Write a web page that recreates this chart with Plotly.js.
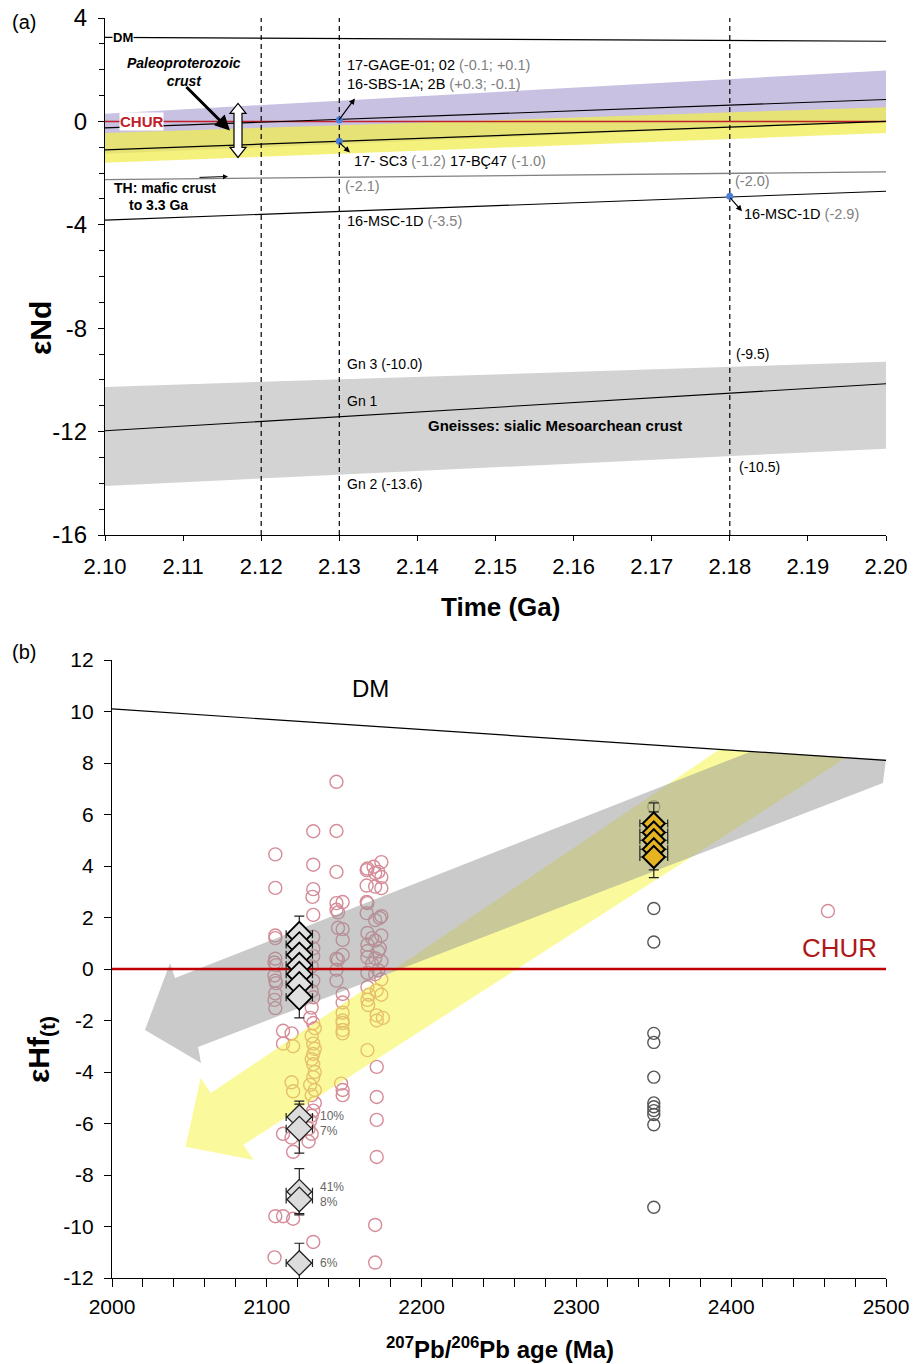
<!DOCTYPE html>
<html><head><meta charset="utf-8">
<script src="https://cdn.plot.ly/plotly-3.0.1.min.js"></script>
<style>html,body{margin:0;padding:0;background:#fff}</style>
</head><body><div id="chart" style="width:917px;height:1364px"></div>
<script>
// ---------- Panel (a) data ----------
const aX = [2.10, 2.20];
const aDM = [3.25, 3.1];
const aCHUR = [0, 0];
const aUpperLine = [-0.25, 0.85];
const aLowerLine = [-1.1, 0.0];
const aTH = [-2.25, -1.95];
const aMSC = [-3.82, -2.7];
const aGn1 = [-11.97, -10.15];
const purpleTop = [0.3, 1.97], purpleBot = [-1.25, 0.0];
const yellowTop = [-0.45, 0.55], yellowBot = [-1.6, -0.45];
const gneissTop = [-10.27, -9.3], gneissBot = [-14.1, -12.66];
const refAges = [2.12, 2.13, 2.18];
const sampleX = [2.13, 2.13, 2.18];
const sampleY = [0.05, -0.77, -2.9];
const aXTicks = [2.10,2.11,2.12,2.13,2.14,2.15,2.16,2.17,2.18,2.19,2.20];
const aXTickText = ['2.10','2.11','2.12','2.13','2.14','2.15','2.16','2.17','2.18','2.19','2.20'];
const aYTicks = [4,0,-4,-8,-12,-16];
const aYTickText = ['4','0','-4','-8','-12','-16'];

// ---------- Panel (b) data ----------
const bX = [2000, 2500];
const bDM = [10.1, 8.1];
const bCHUR = [0, 0];
const grayArrowAge = [2021.3, 2037.5, 2040.7, 2412, 2500, 2498, 2055.6, 2057.5, 2021.3];
const grayArrowEps = [-2.37, 0.23, -0.35, 8.43, 8.15, 7.22, -3.03, -3.65, -2.37];
const yellowArrowAge = [2047.5, 2057.3, 2063.8, 2392.5, 2474, 2084.9, 2091.5, 2047.5];
const yellowArrowEps = [-6.9, -4.23, -4.82, 8.53, 8.2, -6.83, -7.42, -6.9];

const colA_age = [2105.5,2105.5,2105.5,2105.5,2105.5,2105,2106,2105,2105.5,2106,2105.5,2105,2105.5,2105.5,2105];
const colA_eps = [4.45,3.15,1.3,1.2,0.4,0.25,0.15,-0.25,-0.45,-0.55,-0.95,-1.2,-1.52,-9.6,-11.2];
const colB_age = [2110.5,2116,2110.5,2117,2116,2117,2110.5,2116,2117,2110.5,2117];
const colB_eps = [-2.4,-2.5,-2.9,-3.0,-4.4,-4.75,-6.4,-6.55,-7.1,-9.6,-9.7];
const colC_age = [2130,2130,2130,2129.5,2130,2130,2130,2130,2129,2130,2129,2130,2129,
  2128,2130,2131,2129,2130,2131,2130,2129,2130,2131,2130,2128,2131,2129,2131,2130,2129,2128,2127,2129,2127,2130];
const colC_eps = [5.35,4.05,3.1,2.8,2.1,1.25,0.8,0.5,0.1,-0.45,-0.85,-1.1,-1.5,
  -1.9,-2.1,-2.3,-2.6,-2.9,-3.1,-3.3,-3.5,-3.7,-4.0,-4.2,-4.5,-4.7,-4.9,-5.2,-5.5,-5.7,-5.9,-6.2,-6.4,-6.7,-10.6];
const colD_age = [2145,2145,2145,2145,2149,2145,2146,2146,2149,2149,2149,2145,2146,2145,2145,2149,2149,2149,2149,2149,2149,2149,2148,2149,2149];
const colD_eps = [7.27,5.36,3.77,2.56,2.6,2.3,2.2,1.6,1.55,1.13,0.55,0.4,0.36,-0.03,-0.45,-0.97,-1.3,-1.7,-2.0,-2.1,-2.37,-2.5,-4.45,-4.7,-4.9];
const colE_age = [2174,2169,2165,2164.5,2172,2170,2174,2164.5,2170,2174,2164.5,2165,2164.5,2174,2173,2170,2165,2174,2168,2170,2165,2173,2165,2172,2165,2170,2174,2168,2172,2165,2170,2174,2165,2171,2166,2165,2165.5,2171,2171,2165,2171,2171,2171,2171,2170,2170,2174,2175];
const colE_eps = [4.15,3.97,3.9,3.84,3.77,3.72,3.57,3.24,3.2,3.14,2.6,2.56,2.17,2.05,1.98,1.9,1.4,1.3,1.2,1.1,0.95,0.8,0.7,0.68,0.45,0.42,0.3,0.2,-0.05,-0.15,-0.2,-0.4,-0.7,-0.83,-1.0,-1.2,-1.4,-1.8,-2.0,-3.15,-3.8,-4.97,-5.86,-7.3,-9.94,-11.4,-1.0,-1.9];
const outlierAge = [2462.5];
const outlierEps = [2.25];

const grayCircAge = [2350,2350,2350,2350,2350,2350,2350,2350,2350,2350,2350,2350];
const grayCircEps = [6.3,2.35,1.05,-2.5,-2.85,-4.2,-5.2,-5.35,-5.5,-5.65,-6.05,-9.25];

const diamUpAge = [2121,2121,2121,2121,2121,2121,2121];
const diamUpEps = [1.35,0.95,0.55,0.15,-0.2,-0.6,-1.1];
const diamUpErrY = [0.7,0.6,0.7,0.6,0.65,0.7,0.8];
const diamUpErrX = [8.5,8.5,8.5,8.5,8.5,8.5,8.5];
const diamLowAge = [2121,2121,2121,2121,2121];
const diamLowEps = [-5.75,-6.2,-8.65,-8.95,-11.42];
const diamLowErrY = [0.62,0.95,0.9,0.55,0.77];
const diamLowErrX = [8.5,8.5,8.5,8.5,8.5];
const diamLowLabels = ['10%','7%','41%','8%','6%'];
const diamLowLabelEps = [-5.7,-6.3,-8.47,-9.05,-11.42];
const orangeAge = [2350,2350,2350,2350,2350];
const orangeEps = [5.65,5.3,5.0,4.65,4.35];
const orangeErrY = [0.8,0.8,0.8,0.8,0.8];
const orangeErrX = [9,9,9,9,9];
const bYTicks = [12,10,8,6,4,2,0,-2,-4,-6,-8,-10,-12];
const bYTickText = ['12','10','8','6','4','2','0','-2','-4','-6','-8','-10','-12'];

// ---------- build ----------
const F = 'Liberation Sans, Arial, Helvetica, sans-serif';
const FN = 'Liberation Sans Narrow, Liberation Sans, Arial, sans-serif';
const W = 917, H = 1364;
function band(x, top, bot, color, xa, ya) {
  return {x:[x[0],x[1],x[1],x[0],x[0]], y:[top[0],top[1],bot[1],bot[0],top[0]], xaxis:xa, yaxis:ya,
    mode:'lines', fill:'toself', fillcolor:color, line:{width:0}, hoverinfo:'skip'};
}
function line(x, y, color, width, xa, ya, dash) {
  return {x:x, y:y, xaxis:xa, yaxis:ya, mode:'lines', line:{color:color, width:width, dash:dash||'solid'}, hoverinfo:'skip'};
}
const traces = [];
// panel a
traces.push(band(aX, gneissTop, gneissBot, 'rgb(211,211,211)', 'x', 'y'));
traces.push(band(aX, purpleTop, purpleBot, 'rgb(200,193,225)', 'x', 'y'));
traces.push(band(aX, yellowTop, yellowBot, 'rgba(240,236,80,0.75)', 'x', 'y'));
refAges.forEach(v => traces.push(line([v,v], [-16,4], '#000', 1.2, 'x', 'y', '5px,4px')));
traces.push(line(aX, aDM, '#000', 1.2, 'x', 'y'));
traces.push(line(aX, aCHUR, '#c0202a', 1.5, 'x', 'y'));
traces.push(line(aX, aUpperLine, '#000', 1.1, 'x', 'y'));
traces.push(line(aX, aLowerLine, '#000', 1.1, 'x', 'y'));
traces.push(line(aX, aTH, '#808080', 1.3, 'x', 'y'));
traces.push(line(aX, aMSC, '#000', 1.1, 'x', 'y'));
traces.push(line(aX, aGn1, '#000', 1.1, 'x', 'y'));
traces.push({x:sampleX, y:sampleY, xaxis:'x', yaxis:'y', mode:'markers', marker:{color:'#4a80d8', size:7}, hoverinfo:'skip'});
// panel b
const pink = 'rgb(214,140,152)';
[[colA_age,colA_eps],[colB_age,colB_eps],[colC_age,colC_eps],[colD_age,colD_eps],[colE_age,colE_eps],[outlierAge,outlierEps]].forEach(c => {
  traces.push({x:c[0], y:c[1], xaxis:'x2', yaxis:'y2', mode:'markers',
    marker:{symbol:'circle-open', color:pink, size:13, line:{width:1.4}}, hoverinfo:'skip'});
});
traces.push({x:grayCircAge, y:grayCircEps, xaxis:'x2', yaxis:'y2', mode:'markers',
  marker:{symbol:'circle-open', color:'#555', size:12, line:{width:1.4}}, hoverinfo:'skip'});
traces.push({x:yellowArrowAge, y:yellowArrowEps, xaxis:'x2', yaxis:'y2', mode:'lines', fill:'toself',
  fillcolor:'rgba(245,245,60,0.5)', line:{width:0}, hoverinfo:'skip'});
traces.push({x:grayArrowAge, y:grayArrowEps, xaxis:'x2', yaxis:'y2', mode:'lines', fill:'toself',
  fillcolor:'rgba(150,150,150,0.5)', line:{width:0}, hoverinfo:'skip'});
traces.push(line(bX, bDM, '#000', 1.2, 'x2', 'y2'));
traces.push(line(bX, bCHUR, '#c00000', 2.5, 'x2', 'y2'));
const eb = (arr, w) => ({type:'data', array:arr, visible:true, color:'#222', thickness:1.2, width:w});
traces.push({x:diamUpAge, y:diamUpEps, xaxis:'x2', yaxis:'y2', mode:'markers',
  error_y:eb(diamUpErrY,5), error_x:eb(diamUpErrX,4),
  marker:{symbol:'diamond', size:19, color:'#e0e0e0', line:{color:'#000', width:1.8}}, hoverinfo:'skip'});
traces.push({x:diamLowAge, y:diamLowEps, xaxis:'x2', yaxis:'y2', mode:'markers',
  error_y:eb(diamLowErrY,5), error_x:eb(diamLowErrX,4),
  marker:{symbol:'diamond', size:19, color:'#dcdcdc', line:{color:'#222', width:1.3}}, hoverinfo:'skip'});
traces.push({x:orangeAge, y:orangeEps, xaxis:'x2', yaxis:'y2', mode:'markers',
  error_y:eb(orangeErrY,5), error_x:eb(orangeErrX,4),
  marker:{symbol:'diamond', size:17, color:'#e6b422', line:{color:'#000', width:2}}, hoverinfo:'skip'});

const grey = '#808080';
const ann = [];
function t(x, y, text, opts) {
  ann.push(Object.assign({xref:'x', yref:'y', x:x, y:y, text:text, showarrow:false, xanchor:'left', yanchor:'middle',
    font:{family:F, size:14.5, color:'#000'}}, opts||{}));
}
function arrow(x, y, ax, ay, w, xr, yr) {
  ann.push({xref:xr||'x', yref:yr||'y', x:x, y:y, ax:ax, ay:ay, text:'', showarrow:true, arrowhead:2,
    arrowsize:1, arrowwidth:w, arrowcolor:'#000'});
}
// panel a text
t(2.1009, 3.25, '<b>DM</b>', {font:{family:F, size:13, color:'#000'}, bgcolor:'#fff', borderpad:0});
t(2.1026, 1.9, '<b><i>Paleoproterozoic<br>crust</i></b>', {font:{family:F, size:14, color:'#000'}});
arrow(2.1160, -0.35, -45, -45, 3);
t(2.1018, 0, '<b>CHUR</b>', {font:{family:F, size:15, color:'#c0202a'}, bgcolor:'#fff', borderpad:0});
t(2.1307, 2.17, '17-GAGE-01; 02 <span style="color:'+grey+'">(-0.1; +0.1)</span>');
t(2.1307, 1.43, '16-SBS-1A; 2B <span style="color:'+grey+'">(+0.3; -0.1)</span>');
arrow(2.1320, 0.89, -17, 23, 1.2);
t(2.1316, -1.55, '17- SC3 <span style="color:'+grey+'">(-1.2)</span> 17-BÇ47 <span style="color:'+grey+'">(-1.0)</span>');
arrow(2.13137, -1.2, -12, -11, 1.2);
t(2.1009, -2.59, '<b>TH: mafic crust</b>', {font:{family:F, size:14, color:'#000'}});
t(2.1028, -3.25, '<b>to 3.3 Ga</b>', {font:{family:F, size:14, color:'#000'}});
arrow(2.11575, -2.13, -30, 1, 1);
t(2.1305, -2.51, '<span style="color:'+grey+'">(-2.1)</span>');
t(2.1307, -3.87, '16-MSC-1D <span style="color:'+grey+'">(-3.5)</span>');
t(2.1804, -2.32, '<span style="color:'+grey+'">(-2.0)</span>');
t(2.18156, -3.6, '16-MSC-1D <span style="color:'+grey+'">(-2.9)</span>');
arrow(2.18156, -3.48, -13, -15, 1.2);
t(2.1307, -9.4, 'Gn 3 (-10.0)', {font:{family:FN, size:14, color:'#000'}});
t(2.1307, -10.83, 'Gn 1', {font:{family:FN, size:14, color:'#000'}});
t(2.1576, -11.76, '<b>Gneisses: sialic Mesoarchean crust</b>', {xanchor:'center', font:{family:FN, size:15, color:'#000'}});
t(2.1307, -14.04, 'Gn 2 (-13.6)', {font:{family:FN, size:14, color:'#000'}});
t(2.18054, -9.01, '(-9.5)', {font:{family:FN, size:14, color:'#000'}});
t(2.1809, -13.35, '(-10.5)', {font:{family:FN, size:14, color:'#000'}});
// panel b text
ann.push({xref:'x2', yref:'y2', x:2166.7, y:10.9, text:'DM', showarrow:false, xanchor:'center', yanchor:'middle', font:{family:F, size:24, color:'#000'}});
ann.push({xref:'x2', yref:'y2', x:2470, y:0.82, text:'CHUR', showarrow:false, xanchor:'center', yanchor:'middle', font:{family:F, size:26, color:'#b01818'}});
diamLowLabels.forEach((s, i) => ann.push({xref:'x2', yref:'y2', x:2133, y:diamLowLabelEps[i], text:s, showarrow:false,
  xanchor:'left', yanchor:'middle', font:{family:F, size:12, color:'#666'}}));
// panel labels and titles
const P = (px, py) => ({x:px/W, y:1-py/H});
function pt(px, py, text, size, opts) {
  const p = P(px, py);
  ann.push(Object.assign({xref:'paper', yref:'paper', x:p.x, y:p.y, text:text, showarrow:false,
    xanchor:'center', yanchor:'middle', font:{family:F, size:size, color:'#000'}}, opts||{}));
}
pt(24, 22, '(a)', 20);
pt(24, 652, '(b)', 20);
pt(40, 328, '<b>εNd</b>', 30, {textangle:-90});
pt(500, 607, '<b>Time (Ga)</b>', 26);
pt(40, 1050, '<b>εHf<sub>(t)</sub></b>', 30, {textangle:-90});
pt(500, 1348, '<b><sup>207</sup>Pb/<sup>206</sup>Pb age (Ma)</b>', 24, {font:{family:FN, size:24, color:'#000'}});

const shapes = [{
  type:'path', xref:'x', yref:'y', xsizemode:'pixel', ysizemode:'pixel', xanchor:2.11703, yanchor:-0.35,
  path:'M -4 -17 L -4 17 L -8 17 L 0 27 L 8 17 L 4 17 L 4 -17 L 8 -17 L 0 -27 L -8 -17 Z',
  fillcolor:'#fff', line:{color:'#000', width:1.2}
}];

const axCommon = {showgrid:false, zeroline:false, showline:true, linecolor:'#000', linewidth:1.2, ticks:'outside', tickcolor:'#000'};
const layout = {
  width:W, height:H, margin:{l:0, r:0, t:0, b:0}, paper_bgcolor:'#fff', plot_bgcolor:'rgba(0,0,0,0)',
  showlegend:false, annotations:ann, shapes:shapes, font:{family:F},
  xaxis: Object.assign({}, axCommon, {domain:[105/W, 886/W], range:[2.10, 2.20], anchor:'y',
    tickvals:aXTicks, ticktext:aXTickText, ticklen:5, tickfont:{family:F, size:22, color:'#000'}, ticklabelstandoff:6}),
  yaxis: Object.assign({}, axCommon, {domain:[1-535/H, 1-18/H], range:[-16, 4], anchor:'x',
    tickvals:aYTicks, ticktext:aYTickText, ticklen:6, tickfont:{family:F, size:24, color:'#000'}, ticklabelstandoff:6,
    minor:{dtick:1, tick0:0, ticks:'outside', ticklen:5, tickcolor:'#000'}}),
  xaxis2: Object.assign({}, axCommon, {domain:[112/W, 886/W], range:[2000, 2500], anchor:'y2',
    dtick:100, tick0:2000, ticklen:8, tickfont:{family:FN, size:21, color:'#000'}, ticklabelstandoff:2,
    minor:{dtick:20, tick0:2000, ticks:'outside', ticklen:8, tickcolor:'#000'}}),
  yaxis2: Object.assign({}, axCommon, {domain:[1-1278/H, 1-660/H], range:[-12, 12], anchor:'x2',
    tickvals:bYTicks, ticktext:bYTickText, ticklen:7, tickfont:{family:F, size:21, color:'#000'}, ticklabelstandoff:6})
};
Plotly.newPlot('chart', traces, layout, {displayModeBar:false, staticPlot:true});
</script></body></html>
